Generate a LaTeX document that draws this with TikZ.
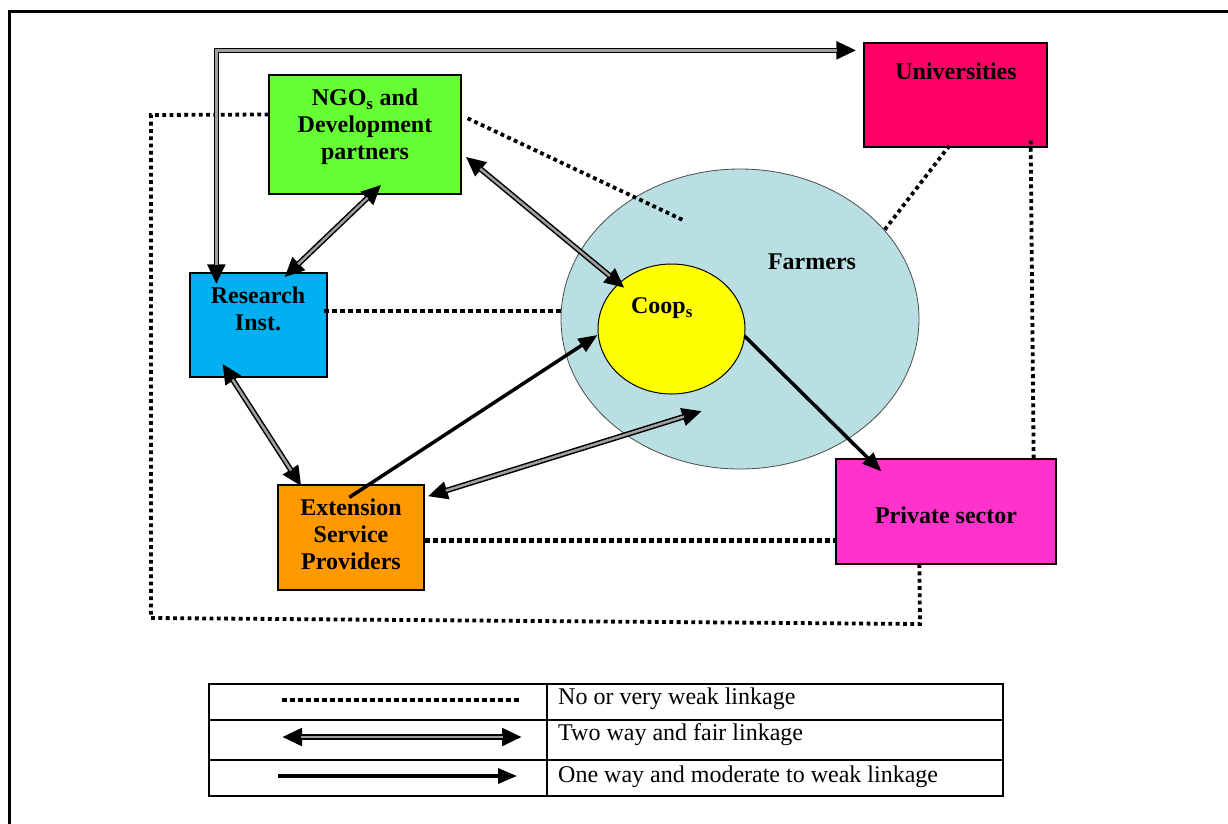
\documentclass[tikz,border=0pt]{standalone}
\usepackage{fontspec}
\setmainfont{Liberation Serif}
\usetikzlibrary{calc,arrows.meta,shapes.geometric}
\definecolor{ngogreen}{HTML}{66FF33}
\definecolor{univred}{HTML}{FF0066}
\definecolor{resblue}{HTML}{00B0F0}
\definecolor{extorange}{HTML}{FF9900}
\definecolor{privpink}{HTML}{FF33CC}
\definecolor{farmblue}{HTML}{B9DFE3}
\definecolor{coopyellow}{HTML}{FFFF00}
\definecolor{shaftgray}{HTML}{A0A0A0}
\tikzset{
  box/.style={draw=black, line width=1.3pt, inner sep=0pt},
  lbl/.style={font=\bfseries\fontsize{24}{27}\selectfont, align=center, inner sep=0pt},
  leg/.style={font=\fontsize{24}{27}\selectfont, anchor=west, inner sep=0pt},
  twoout/.style={draw=black, line width=5.5pt, {Triangle[length=20pt,width=17pt]}-{Triangle[length=20pt,width=17pt]}},
  twoin/.style={draw=shaftgray, line width=2.5pt, shorten >=19pt, shorten <=19pt},
  oneway/.style={draw=black, line width=3.5pt, -{Triangle[length=19pt,width=15pt]}},
  weak/.style={draw=black, line width=4.5pt, dash pattern=on 5pt off 3pt},
  weakthin/.style={draw=black, line width=3.8pt, dash pattern=on 3.8pt off 3.5pt},
}
\newcommand\twolink[1]{\draw[twoout] #1; \draw[twoin] #1;}
\begin{document}
\begin{tikzpicture}[x=1pt,y=-1pt]
\useasboundingbox (0,0) rectangle (1228,824);
\fill[white] (0,0) rectangle (1228,824);
\draw[line width=3pt] (9.5,824) -- (9.5,11.5) -- (1228,11.5);

% ellipses
\node[ellipse, draw=black!70, line width=0.8pt, fill=farmblue, minimum width=358pt, minimum height=300pt, inner sep=0pt] (farm) at (740,319) {};
\node[ellipse, draw=black, line width=1pt, fill=coopyellow, minimum width=147pt, minimum height=130pt, inner sep=0pt] (coop) at (671.5,329) {};

% boxes
\node[box, fill=ngogreen, minimum width=192pt, minimum height=119pt] (ngo) at (365,134.5) {};
\node[box, fill=univred, minimum width=183pt, minimum height=104pt] (univ) at (955.5,95) {};
\node[box, fill=resblue, minimum width=137pt, minimum height=104pt] (res) at (258.5,325) {};
\node[box, fill=extorange, minimum width=146pt, minimum height=105pt] (ext) at (351,537.5) {};
\node[box, fill=privpink, minimum width=220pt, minimum height=105pt] (priv) at (946,511.5) {};

% dotted weak links
\draw[weakthin] ($(ngo.north east)+(6,44)$) -- ($(farm.center)+(-55,-98)$);
\draw[weak] ($(res.east)+(-4,-14)$) -- ($(farm.west)+(0,-8)$);
\draw[weakthin] ($(univ.south west)+(86,-2)$) -- ($(farm.center)+(143,-87)$);
\draw[weakthin] ($(univ.south east)+(-17,-7)$) -- ($(priv.north east)+(-23,0)$);
\draw[weak] ($(ext.east)+(0,3)$) -- ($(priv.west)+(0,29)$);
\coordinate (loopa) at (151,115);
\coordinate (loopb) at (151,618);
\coordinate (loopc) at (920,624);
\draw[weakthin] ($(ngo.west)+(0,-20)$) -- (loopa) -- (loopb) -- (loopc) -- ($(priv.south west)+(84,0)$);

% two way links
\twolink{($(res.north west)+(27,12)$) |- ($(univ.north west)+(-7,8)$)}
\twolink{($(ngo.south west)+(113,-10)$) -- ($(res.north west)+(95,5)$)}
\twolink{($(ngo.south east)+(4,-38)$) -- ($(coop.center)+(-47,-41)$)}
\twolink{($(res.south west)+(33,-14)$) -- ($(ext.north west)+(24,2)$)}
\twolink{($(ext.north east)+(3,12)$) -- ($(farm.center)+(-38,92)$)}

% one way links
\draw[oneway] ($(ext.north west)+(72,13)$) -- ($(coop.west)+(0,6)$);
\draw[oneway] ($(coop.east)+(-1,7)$) -- ($(priv.north west)+(46,13)$);

% labels
\node[lbl] (tngo) at (365,127) {NGO\textsubscript{s} and\\Development\\partners};
\node[lbl] (tuniv) at (956,71) {Universities};
\node[lbl] (tres) at (258,309) {Research\\Inst.};
\node[lbl] (text) at (351,534) {Extension\\Service\\Providers};
\node[lbl] (tpriv) at (946,515) {Private sector};
\node[lbl] (tfarm) at (812,262) {Farmers};
\node[lbl] (tcoop) at (662,308) {Coop\textsubscript{s}};

% legend
\draw[line width=1.3pt] (209,684) rectangle (1003,796);
\draw[line width=1.3pt] (209,720) -- (1003,720);
\draw[line width=1.3pt] (209,760) -- (1003,760);
\draw[line width=1.3pt] (547,684) -- (547,796);
\coordinate (l1a) at (282,700); \coordinate (l1b) at (521,700);
\coordinate (l2a) at (282,737); \coordinate (l2b) at (522,737);
\coordinate (l3a) at (278,776); \coordinate (l3b) at (517,776);
\draw[weak] (l1a) -- (l1b);
\twolink{(l2a) -- (l2b)}
\draw[oneway] (l3a) -- (l3b);
\node[leg] (lt1) at (558,699) {No or very weak linkage};
\node[leg] (lt2) at (558,735) {Two way and fair linkage};
\node[leg] (lt3) at (558,777) {One way and moderate to weak linkage};
\end{tikzpicture}
\end{document}
